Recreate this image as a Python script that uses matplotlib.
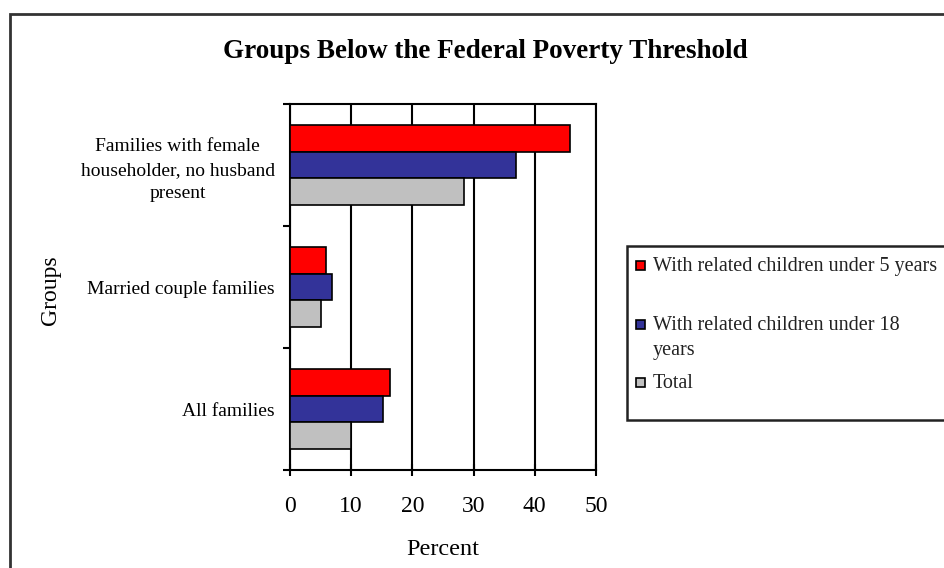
import matplotlib
matplotlib.use("Agg")
import matplotlib.pyplot as plt
from matplotlib.patches import Rectangle
import numpy as np

categories = ["All families", "Married couple families",
              "Families with female\nhouseholder, no husband\npresent"]
series_names = ["With related children under 5 years",
                "With related children under 18\nyears",
                "Total"]
under5 = [16.3, 5.9, 45.7]
under18 = [15.2, 6.9, 36.9]
total = [10.0, 5.1, 28.5]
colors = ["#FF0000", "#333399", "#C0C0C0"]
xticks = [0, 10, 20, 30, 40, 50]

plt.rcParams['font.family'] = ['Liberation Serif', 'DejaVu Serif']

W, H = 944, 568
fig = plt.figure(figsize=(W/100, H/100), dpi=100)
ax = fig.add_axes([290/W, 1-470/H, (596-290)/W, (470-104)/H])

def fx(px):
    return px / W

def fy(py):
    return 1 - py / H

y = np.arange(len(categories))
h = 0.22
for vals, off, c, name in zip([under5, under18, total], [h, 0, -h], colors, series_names):
    ax.barh(y + off, vals, height=h, color=c, edgecolor="black", linewidth=1.2,
            label=name, zorder=3)

ax.set_xlim(0, 50)
ax.set_ylim(-0.5, len(categories) - 0.5)
ax.set_xticks(xticks)
ax.set_xticklabels([str(t) for t in xticks], fontsize=17)
ax.tick_params(axis="x", direction="inout", length=9, width=1.5, pad=14, colors="black")
ax.set_yticks(np.arange(-0.5, len(categories), 1.0))
ax.set_yticklabels([])
ax.tick_params(axis="y", which="major", direction="out", length=5, width=1.5)
ax.set_yticks(y, minor=True)
ax.set_yticklabels(categories, minor=True, fontsize=14, ha="right",
                   multialignment="center", linespacing=1.5)
ax.tick_params(axis="y", which="minor", length=0, pad=11)
ax.xaxis.grid(True, color="black", linewidth=1.5, zorder=0)
ax.set_axisbelow(True)
for s in ax.spines.values():
    s.set_linewidth(1.5)
    s.set_color("black")

ax.set_xlabel("Percent", fontsize=17.5, labelpad=16)
fig.text(fx(50), fy(290), "Groups", rotation=90, fontsize=17, ha="center", va="center")
fig.text(fx(485), fy(52), "Groups Below the Federal Poverty Threshold",
         fontsize=19.5, fontweight="bold", ha="center", va="center")

# legend box (drawn as a framed key, extending past the right edge like the reference)
fig.patches.append(Rectangle((fx(627), fy(420)), fx(400), (420 - 246) / H,
                             transform=fig.transFigure, fill=True, facecolor="white",
                             edgecolor="#222222", linewidth=1.8, zorder=2))
entry_y = [265, 324, 382]
for name, c, cy in zip(series_names, colors, entry_y):
    fig.patches.append(Rectangle((fx(636), fy(cy + 4.5)), fx(9), 9 / H,
                                 transform=fig.transFigure, facecolor=c,
                                 edgecolor="black", linewidth=1.2, zorder=3))
    fig.text(fx(653), fy(cy - 8), name, fontsize=14.5, ha="left", va="top",
             linespacing=1.4, color="#222222", zorder=4)

fig.patches.append(Rectangle((10/W, -0.1), 1.0, 1 - 14/H + 0.1, transform=fig.transFigure,
                             fill=False, edgecolor="#333333", linewidth=2))

fig.savefig("out.png", dpi=100)
